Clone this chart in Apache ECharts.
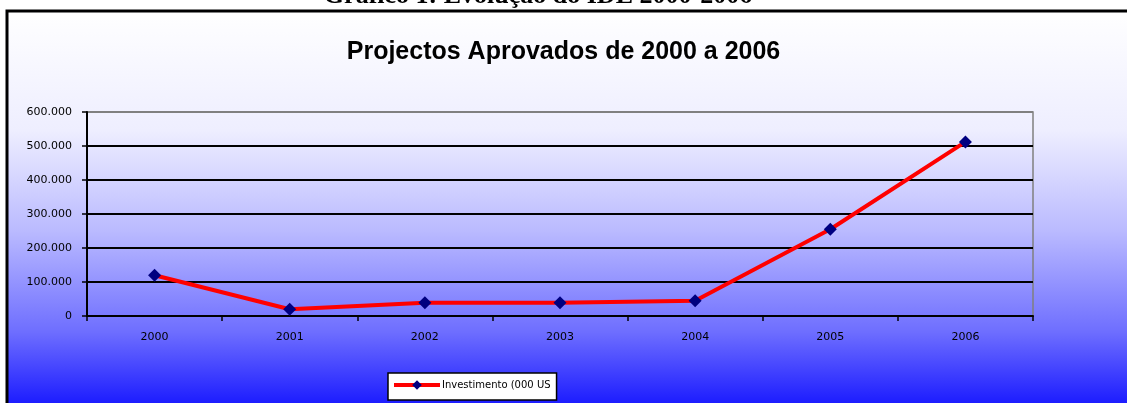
<!DOCTYPE html>
<html>
<head>
<meta charset="utf-8">
<script src="https://cdn.jsdelivr.net/npm/echarts@6/dist/echarts.min.js"></script>
<style>
  html, body { margin: 0; padding: 0; background: #fff; }
  #chart { width: 1127px; height: 403px; }
</style>
</head>
<body>
<div id="chart"></div>
<script>
const years = ["2000", "2001", "2002", "2003", "2004", "2005", "2006"];
const investimento = [120000, 20000, 39000, 39000, 45000, 255000, 512000];
const yTicks = [0, 100000, 200000, 300000, 400000, 500000, 600000];

function fmtThousands(v) {
  return String(v).replace(/\B(?=(\d{3})+(?!\d))/g, ".");
}

const chart = echarts.init(document.getElementById("chart"));

const option = {
  animation: false,
  backgroundColor: "#ffffff",
  graphic: [
    {
      type: "rect",
      z: -10,
      shape: { x: 7, y: 11, width: 1130, height: 400 },
      style: {
        fill: new echarts.graphic.LinearGradient(0, 0, 0, 1, [
          { offset: 0, color: "#ffffff" },
          { offset: 0.3, color: "#eeeeff" },
          { offset: 0.55, color: "#babaff" },
          { offset: 0.8, color: "#6e6eff" },
          { offset: 1, color: "#1212ff" }
        ]),
        stroke: "#000",
        lineWidth: 3
      }
    },
    {
      type: "text",
      z: 10,
      x: 538,
      y: -4,
      style: {
        text: "Gráfico 1: Evolução do IDE 2000-2006",
        font: "bold 26px 'Liberation Serif'",
        fill: "#000",
        align: "center",
        verticalAlign: "middle"
      }
    }
  ],
  title: {
    text: "Projectos Aprovados de 2000 a 2006",
    left: "center",
    top: 40,
    padding: 0,
    textStyle: {
      fontFamily: "Liberation Sans",
      fontWeight: "bold",
      fontSize: 25,
      color: "#000"
    }
  },
  legend: {
    left: 388,
    top: 373,
    padding: [7, 6, 10, 4],
    backgroundColor: "#ffffff",
    borderColor: "#000",
    borderWidth: 1.5,
    itemWidth: 46,
    itemHeight: 12,
    itemGap: 4,
    lineStyle: { width: 4 },
    textStyle: {
      fontFamily: "DejaVu Sans",
      fontSize: 10,
      color: "#000",
      width: 117,
      overflow: "truncate",
      ellipsis: "",
      padding: [0, 0, 0, -3]
    }
  },
  grid: {
    left: 87,
    right: 94,
    top: 112,
    bottom: 87,
    show: true,
    borderColor: "#808080",
    borderWidth: 1.5,
    backgroundColor: "transparent"
  },
  xAxis: {
    type: "category",
    data: years,
    boundaryGap: true,
    axisLine: { lineStyle: { color: "#000", width: 2 } },
    axisTick: { show: true, length: 5, lineStyle: { color: "#000", width: 1.5 } },
    axisLabel: {
      color: "#000",
      fontFamily: "DejaVu Sans",
      fontSize: 11,
      margin: 16
    },
    splitLine: { show: false }
  },
  yAxis: {
    type: "value",
    min: yTicks[0],
    max: yTicks[yTicks.length - 1],
    interval: 100000,
    axisLine: { show: true, lineStyle: { color: "#000", width: 2 } },
    axisTick: { show: true, inside: false, length: 5, lineStyle: { color: "#000", width: 1.5 } },
    axisLabel: {
      color: "#000",
      fontFamily: "DejaVu Sans",
      fontSize: 11,
      margin: 15,
      formatter: fmtThousands
    },
    splitLine: {
      show: true,
      lineStyle: {
        color: ["#000", "#000", "#000", "#000", "#000", "#000", "#808080"],
        width: 1.8
      }
    }
  },
  series: [
    {
      name: "Investimento (000 USD)",
      type: "line",
      data: investimento,
      symbol: "diamond",
      symbolSize: 13,
      lineStyle: { color: "#ff0000", width: 4 },
      itemStyle: { color: "#000080" },
      z: 5
    }
  ]
};

chart.setOption(option);
</script>
</body>
</html>
